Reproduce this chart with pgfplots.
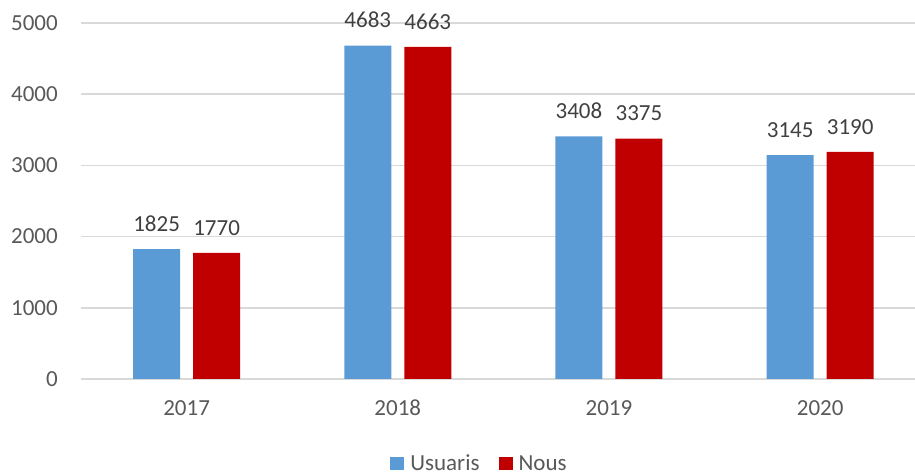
\documentclass[border=0pt]{standalone}
\usepackage{pgfplots}
\pgfplotsset{compat=1.18}
\usepackage{fontspec}
\setmainfont{Carlito}
\definecolor{cblue}{HTML}{5B9BD5}
\definecolor{cred}{HTML}{C00000}
\definecolor{tgray}{HTML}{595959}
\definecolor{lgray}{HTML}{404040}
\definecolor{ggray}{HTML}{D9D9D9}
\begin{document}
\begin{tikzpicture}
\path[use as bounding box] (-81pt,-97pt) rectangle (834pt,379pt);
\begin{axis}[
  at={(0pt,0pt)}, anchor=south west,
  scale only axis, width=834pt, height=356pt,
  xmin=-0.5, xmax=3.449, ymin=0, ymax=5000,
  ybar, bar width=47pt,
  axis line style={draw=none},
  axis x line*=bottom,
  xtick={0,1,2,3}, xticklabels={2017,2018,2019,2020},
  ytick={0,1000,2000,3000,4000,5000},
  major tick length=0pt,
  ymajorgrids, grid style={ggray, line width=1.5pt},
  tick label style={font=\fontsize{23}{27}\selectfont, text=tgray, inner sep=0pt},
  /pgf/number format/assume math mode=true,
  /pgf/number format/1000 sep={},
  yticklabel style={anchor=east, xshift=-23pt},
  xticklabel style={anchor=north, yshift=-21pt},
  nodes near coords,
  nodes near coords style={font=\fontsize{23}{27}\selectfont, text=lgray, inner sep=0pt, anchor=south, yshift=17.5pt, /pgf/number format/1000 sep={}, /pgf/number format/assume math mode=true},
  legend style={at={(axis description cs:0.4766,-0.2374)}, anchor=center, draw=none, font=\fontsize{23}{27}\selectfont, text=tgray, legend columns=-1, inner sep=0pt,
    nodes={inner sep=0pt},
    /tikz/every odd column/.append style={column sep=6pt},
    /tikz/every even column/.append style={column sep=19pt}},
  legend cell align=left,
]
\draw[ggray, line width=1.5pt] (rel axis cs:0,0) -- (rel axis cs:1,0);
\addplot[fill=cblue, draw=none, bar shift=-30pt,
  legend image code/.code={\fill[cblue] (0pt,-6.5pt) rectangle (14pt,6.5pt);}]
  coordinates {(0,1825) (1,4683) (2,3408) (3,3145)};
\addplot[fill=cred, draw=none, bar shift=30pt,
  legend image code/.code={\fill[cred] (0pt,-6.5pt) rectangle (14pt,6.5pt);}]
  coordinates {(0,1770) (1,4663) (2,3375) (3,3190)};
\legend{Usuaris,Nous}
\end{axis}
\end{tikzpicture}
\end{document}
